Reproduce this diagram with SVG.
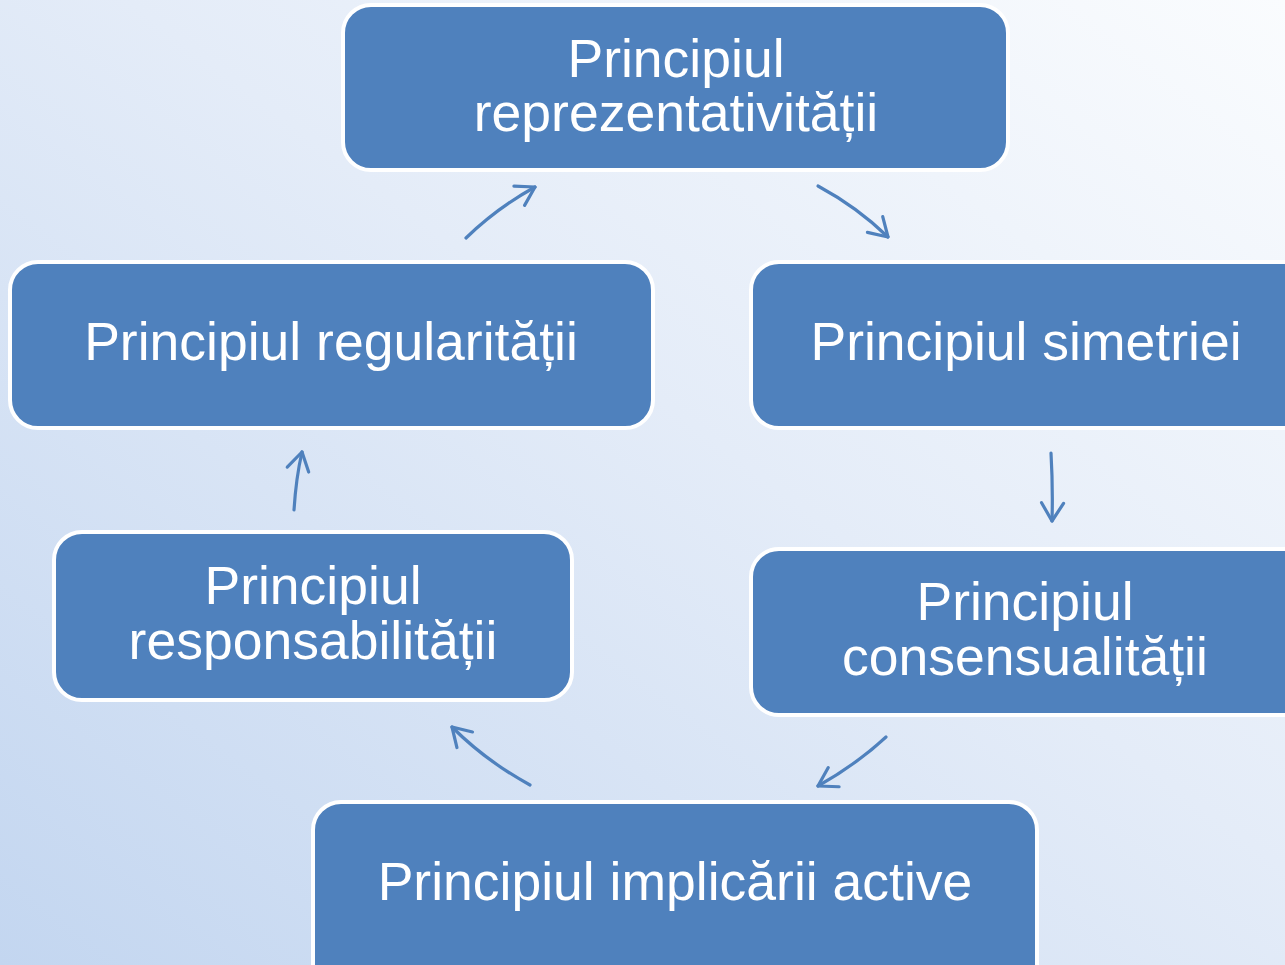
<svg xmlns="http://www.w3.org/2000/svg" width="1285" height="965" viewBox="0 0 1285 965">
<defs>
<linearGradient id="bg" x1="0" y1="1" x2="1" y2="0">
<stop offset="0" stop-color="#C3D6F0"/>
<stop offset="0.55" stop-color="#E4ECF8"/>
<stop offset="1" stop-color="#FAFCFE"/>
</linearGradient>
<marker id="ah" viewBox="0 0 30 30" refX="24" refY="15" markerWidth="30" markerHeight="30" markerUnits="userSpaceOnUse" orient="auto">
<path d="M6,4 L24,15 L6,26" fill="none" stroke="#4F81BD" stroke-width="3.2" stroke-linecap="round" stroke-linejoin="round"/>
</marker>
<style>
.box{fill:#4F81BD;stroke:#FFFFFF;stroke-width:4}
.t{fill:#FFFFFF;font-family:"Liberation Sans",Arial,sans-serif;font-size:53.5px;text-anchor:middle}
.c{fill:none;stroke:#4F81BD;stroke-width:3.2;stroke-linecap:round;marker-end:url(#ah)}
</style>
</defs>
<rect width="1285" height="965" fill="url(#bg)"/>
<g id="n1"><rect class="box" x="343" y="5" width="665" height="165" rx="28"/><text class="t" x="676" y="77">Principiul</text><text class="t" x="676" y="131">reprezentativității</text></g>
<g id="n2"><rect class="box" x="751" y="262" width="560" height="166" rx="28"/><text class="t" x="1026" y="360">Principiul simetriei</text></g>
<g id="n3"><rect class="box" x="751" y="549" width="560" height="166" rx="28"/><text class="t" x="1025" y="620">Principiul</text><text class="t" x="1025" y="675">consensualității</text></g>
<g id="n4"><rect class="box" x="313" y="802" width="724" height="190" rx="28"/><text class="t" x="675" y="900">Principiul implicării active</text></g>
<g id="n5"><rect class="box" x="54" y="532" width="518" height="168" rx="28"/><text class="t" x="313" y="604">Principiul</text><text class="t" x="313" y="659">responsabilității</text></g>
<g id="n6"><rect class="box" x="10" y="262" width="643" height="166" rx="28"/><text class="t" x="331" y="360">Principiul regularității</text></g>
<g id="connectors">
<path class="c" d="M466,238 Q497,208 535,187"/>
<path class="c" d="M818,186 Q857,207 888,237"/>
<path class="c" d="M1051,453 Q1053,488 1052,521"/>
<path class="c" d="M886,737 Q857,764 818,786"/>
<path class="c" d="M530,785 Q486,761 452,727"/>
<path class="c" d="M294,510 Q296,478 302,452"/>
</g>
</svg>
